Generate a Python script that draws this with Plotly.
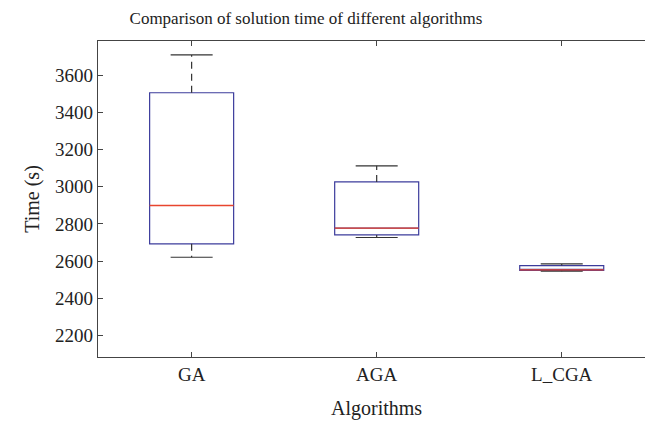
import plotly.graph_objects as go

categories = ["GA", "AGA", "L_CGA"]
lower_whisker = [2621, 2727, 2546]
q1 = [2693, 2741, 2550]
median = [2899, 2777, 2553]
q3 = [3505, 3026, 2576]
upper_whisker = [3708, 3112, 2585]
y_ticks = [2200, 2400, 2600, 2800, 3000, 3200, 3400, 3600]

BOX_W = 0.454
CAP_W = BOX_W / 2
FONT = "Liberation Serif"
BLUE = "#3c3c9c"
RED = "#e8452e"
BLACK = "#333333"
XR = [-0.506, 2.45]

xpos = list(range(len(categories)))

fig = go.Figure()

fig.add_trace(go.Box(
    x=xpos, q1=q1, median=median, q3=q3,
    lowerfence=q1, upperfence=q3,
    width=BOX_W, whiskerwidth=0,
    line=dict(color=BLUE, width=1.2),
    fillcolor="rgba(0,0,0,0)",
    boxpoints=False, hoverinfo="skip", showlegend=False,
))

for i, x in enumerate(xpos):
    fig.add_trace(go.Scatter(
        x=[x, x], y=[q3[i], upper_whisker[i]], mode="lines",
        line=dict(color=BLACK, width=1.2, dash="7px,5px"), showlegend=False, hoverinfo="skip"))
    fig.add_trace(go.Scatter(
        x=[x, x], y=[q1[i], lower_whisker[i]], mode="lines",
        line=dict(color=BLACK, width=1.2, dash="7px,5px"), showlegend=False, hoverinfo="skip"))
    for v in (upper_whisker[i], lower_whisker[i]):
        fig.add_trace(go.Scatter(
            x=[x - CAP_W / 2, x + CAP_W / 2], y=[v, v], mode="lines",
            line=dict(color=BLACK, width=1.2), showlegend=False, hoverinfo="skip"))
    fig.add_trace(go.Scatter(
        x=[x - BOX_W / 2, x + BOX_W / 2], y=[median[i], median[i]], mode="lines",
        line=dict(color=RED, width=1.3), showlegend=False, hoverinfo="skip"))

axis_common = dict(showline=True, linecolor="#444444", linewidth=1.3,
                   ticks="inside", ticklen=5, tickcolor="#444444", tickwidth=1.3,
                   showgrid=False, zeroline=False, fixedrange=True)

fig.update_layout(
    width=645, height=421,
    margin=dict(l=98, r=0, t=41, b=64),
    paper_bgcolor="white", plot_bgcolor="white",
    font=dict(family=FONT, size=19, color="#222222"),
    title=dict(text="Comparison of solution time of different algorithms",
               x=306 / 645, xanchor="center", xref="container",
               y=1 - 18.5 / 421, yanchor="middle", yref="container",
               font=dict(family=FONT, size=17, color="#222222")),
    xaxis=dict(range=XR, tickvals=xpos, ticktext=categories, mirror="ticks",
               tickfont=dict(size=19), **axis_common),
    yaxis=dict(range=[2085, 3783], tickvals=y_ticks, mirror=False,
               tickfont=dict(size=19),
               title=dict(text="Time (s)", font=dict(size=20), standoff=10),
               **axis_common),
    annotations=[dict(text="Algorithms", x=1, xref="x", y=0, yref="paper",
                      yanchor="middle", yshift=-(408 - 356.7),
                      showarrow=False, font=dict(size=20))],
    # the reference figure is cropped at the right: hide the right frame edge
    shapes=[dict(type="rect", xref="paper", yref="paper",
                 x0=0.985, x1=1.02, y0=0.006, y1=0.994,
                 fillcolor="white", line=dict(width=0), layer="above")],
)

fig.write_html("out.html",
               config={"displayModeBar": False},
               post_script="document.body.style.margin='0';document.body.style.overflow='hidden';")
